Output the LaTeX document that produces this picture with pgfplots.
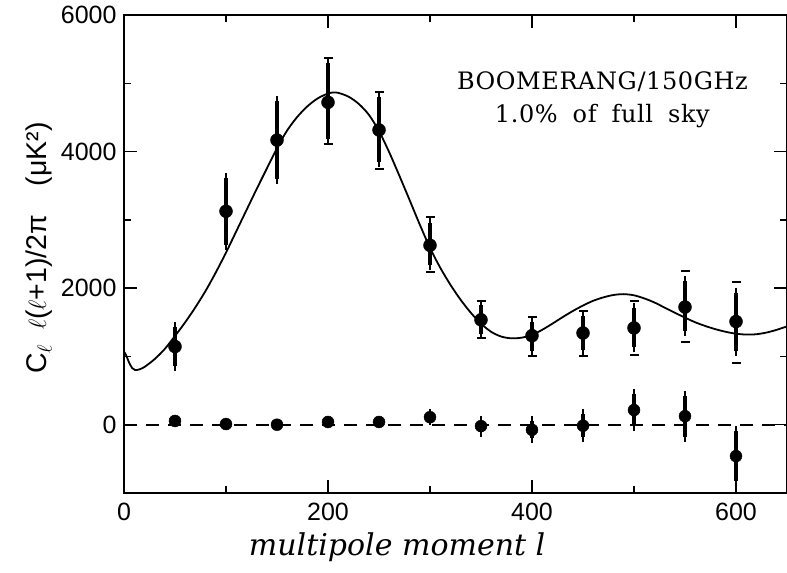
\documentclass[border=0pt]{standalone}
\usepackage{fontspec}
\setmainfont{Liberation Sans}
\newfontfamily\annotfont{DejaVu Serif}
\usepackage{pgfplots}
\usepackage{pgfplotstable}
\pgfplotsset{compat=1.18}

\pgfplotstableread{
x y ep em
50 1145 282 286
100 3126 489 489
150 4168 568 568
200 4721 583 539
250 4316 484 469
300 2627 331 286
350 1536 222 207
400 1304 207 223
450 1343 247 247
500 1417 292 286
550 1723 381 345
600 1511 425 430
}\upperdata

\pgfplotstableread{
x hi lo
200 5367 4108
250 4874 3748
300 3037 2241
350 1812 1270
400 1575 1007
450 1664 1007
500 1812 1017
550 2257 1215
600 2094 908
}\outerdata

\pgfplotstableread{
x y e
50 55 0
100 10 0
150 0 0
200 40 0
250 40 0
300 110 40
350 -20 80
400 -75 125
450 -15 170
500 215 235
550 125 300
600 -460 365
}\lowerdata

\pgfplotstableread{
x y
0 1070
2 1020
5 910
8 830
11 800
15 810
20 845
30 960
40 1110
50 1300
60 1500
70 1720
80 1960
90 2230
100 2520
110 2830
120 3140
130 3450
140 3750
150 4050
160 4310
170 4510
180 4665
190 4780
200 4850
205 4865
210 4860
220 4805
230 4700
240 4540
250 4300
260 3990
270 3645
280 3290
290 2930
300 2590
310 2300
320 2050
330 1830
340 1640
350 1480
360 1360
370 1290
380 1265
390 1275
400 1315
410 1390
420 1480
430 1575
440 1665
450 1745
460 1815
470 1865
480 1900
490 1912
500 1895
510 1850
520 1790
530 1715
540 1640
550 1568
560 1500
570 1445
580 1398
590 1360
600 1333
610 1320
620 1325
630 1350
640 1390
650 1440
}\curvedata

\begin{document}
\begin{tikzpicture}
\begin{axis}[
  name=ax,
  scale only axis,
  width=663pt, height=478pt,
  xmin=0, xmax=650, ymin=-1000, ymax=6000,
  axis line style={line width=1.6pt},
  xtick={0,200,400,600},
  minor xtick={100,300,500},
  ytick={0,2000,4000,6000},
  minor ytick={-1000,1000,3000,5000},
  tick align=inside,
  major tick length=13pt,
  minor tick length=7pt,
  every tick/.style={line width=1.3pt, black},
  tick label style={font=\fontsize{25}{25}\selectfont},
  xticklabel style={yshift=-7pt},
  yticklabel style={xshift=-4pt},
  /pgf/number format/assume math mode=true,
  /pgf/number format/1000 sep={},
  xlabel={\annotfont\itshape multipole moment l},
  xlabel style={font=\fontsize{30}{30}\selectfont, at={(ticklabel cs:0.412)}, anchor=north, yshift=-5pt},
  ylabel={C\textsubscript{$\ell$}\enspace$\ell$($\ell$+1)/2π\quad(μK²)},
  ylabel style={font=\fontsize{28.5}{28.5}\selectfont, yshift=2pt, xshift=6pt},
]
\addplot[line width=1.8pt, smooth] table[x=x,y=y] {\curvedata};
\addplot[line width=1.6pt, dash pattern=on 13pt off 9pt] coordinates {(0,0) (650,0)};
\addplot[only marks, mark=*, mark size=6.5pt,
  error bars/.cd, y dir=both, y explicit,
  error bar style={line width=3.2pt, draw=black},
  error mark options={line width=2.4pt, mark size=5pt}]
  table[x=x, y=y, y error plus=ep, y error minus=em] {\upperdata};
\addplot[only marks, mark=-, mark size=4.5pt, mark options={line width=2pt}] table[x=x,y=hi] {\outerdata};
\addplot[only marks, mark=-, mark size=4.5pt, mark options={line width=2pt}] table[x=x,y=lo] {\outerdata};
\addplot[only marks, mark=*, mark size=6pt,
  error bars/.cd, y dir=both, y explicit,
  error bar style={line width=3.2pt, draw=black},
  error mark options={line width=2.4pt, mark size=5pt}]
  table[x=x, y=y, y error=e] {\lowerdata};
\node[font=\annotfont\fontsize{24}{33}\selectfont, align=center] at (axis cs:469,4760) {{\addfontfeatures{LetterSpace=2.5}BOOMERANG/150GHz}\\{\addfontfeatures{LetterSpace=2.5}1.0\%\hspace{15pt}of\hspace{15pt}full\hspace{15pt}sky}};
\end{axis}
\pgfresetboundingbox
\path ([shift={(-124pt,15pt)}]ax.north west) rectangle ([shift={(0pt,-80pt)}]ax.south east);
\end{tikzpicture}
\end{document}
